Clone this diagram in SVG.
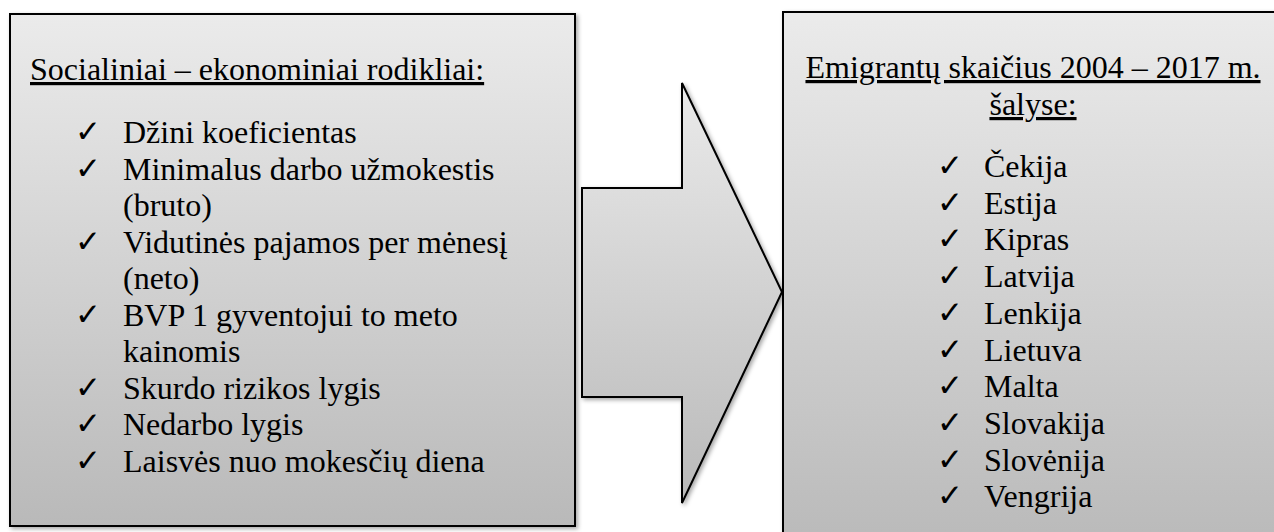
<svg xmlns="http://www.w3.org/2000/svg" width="1274" height="532" viewBox="0 0 1274 532">
  <defs>
    <linearGradient id="gBox" x1="0" y1="0" x2="0" y2="1">
      <stop offset="0" stop-color="#ebebeb"/>
      <stop offset="1" stop-color="#b9b9b9"/>
    </linearGradient>
    <linearGradient id="gArrow" x1="0" y1="0" x2="0" y2="1">
      <stop offset="0" stop-color="#eaeaea"/>
      <stop offset="1" stop-color="#b9b9b9"/>
    </linearGradient>
    <filter id="shadow" x="-10%" y="-10%" width="120%" height="120%">
      <feDropShadow dx="2" dy="2" stdDeviation="2" flood-color="#000" flood-opacity="0.35"/>
    </filter>
  </defs>
  <style>
    .box { fill: url(#gBox); stroke: #000; stroke-width: 2; filter: url(#shadow); }
    .arrow { fill: url(#gArrow); stroke: #000; stroke-width: 2; stroke-linejoin: miter; filter: url(#shadow); }
    .t { font-family: "Liberation Serif", "Times New Roman", serif; font-size: 32px; fill: #000; }
    .title { text-decoration: underline; }
    .chk { font-family: "DejaVu Sans", sans-serif; font-size: 31px; fill: #000; }
  </style>

  <g id="connectors">
    <polygon class="arrow" points="582,188 682,188 682,83 782,292 682,503 682,397 582,397"/>
  </g>

  <g id="node-indicators">
    <rect class="box" x="10" y="14" width="565" height="512"/>
    <text class="t title" x="30" y="80">Socialiniai – ekonominiai rodikliai:</text>
    <g class="chk">
      <text x="75" y="142">✓</text>
      <text x="75" y="179">✓</text>
      <text x="75" y="252">✓</text>
      <text x="75" y="325">✓</text>
      <text x="75" y="398">✓</text>
      <text x="75" y="434">✓</text>
      <text x="75" y="471">✓</text>
    </g>
    <g class="t">
      <text x="123" y="143">Džini koeficientas</text>
      <text x="123" y="180">Minimalus darbo užmokestis</text>
      <text x="123" y="216">(bruto)</text>
      <text x="123" y="253">Vidutinės pajamos per mėnesį</text>
      <text x="123" y="289">(neto)</text>
      <text x="123" y="326">BVP 1 gyventojui to meto</text>
      <text x="123" y="362">kainomis</text>
      <text x="123" y="399">Skurdo rizikos lygis</text>
      <text x="123" y="435">Nedarbo lygis</text>
      <text x="123" y="472">Laisvės nuo mokesčių diena</text>
    </g>
  </g>

  <g id="node-emigrants">
    <rect class="box" x="783" y="12" width="500" height="540"/>
    <text class="t title" x="1033" y="78" text-anchor="middle">Emigrantų skaičius 2004 – 2017 m.</text>
    <text class="t title" x="1033" y="115" text-anchor="middle">šalyse:</text>
    <g class="chk">
      <text x="937" y="176">✓</text>
      <text x="937" y="213">✓</text>
      <text x="937" y="249">✓</text>
      <text x="937" y="286">✓</text>
      <text x="937" y="323">✓</text>
      <text x="937" y="360">✓</text>
      <text x="937" y="396">✓</text>
      <text x="937" y="433">✓</text>
      <text x="937" y="470">✓</text>
      <text x="937" y="506">✓</text>
    </g>
    <g class="t">
      <text x="984" y="177">Čekija</text>
      <text x="984" y="214">Estija</text>
      <text x="984" y="250">Kipras</text>
      <text x="984" y="287">Latvija</text>
      <text x="984" y="324">Lenkija</text>
      <text x="984" y="361">Lietuva</text>
      <text x="984" y="397">Malta</text>
      <text x="984" y="434">Slovakija</text>
      <text x="984" y="471">Slovėnija</text>
      <text x="984" y="507">Vengrija</text>
    </g>
  </g>
</svg>
